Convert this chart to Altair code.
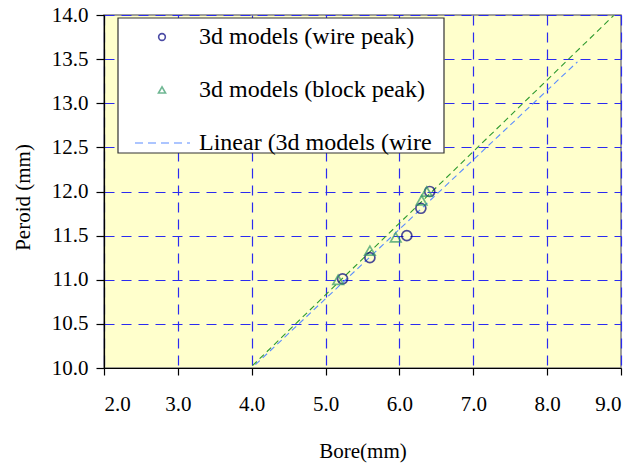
import altair as alt
import pandas as pd

# Data
wire_bore = [5.23, 5.60, 6.10, 6.29, 6.41]
wire_period = [11.01, 11.25, 11.50, 11.81, 12.00]
block_bore = [5.17, 5.60, 5.95, 6.30, 6.37]
block_period = [11.00, 11.33, 11.48, 11.90, 12.00]
wire_trend_extent = [4.05, 8.41]
block_trend_extent = [4.01, 8.90]
legend_labels = ["3d models (wire peak)", "3d models (block peak)", "Linear (3d models (wire"]
x_ticks = [2, 3, 4, 5, 6, 7, 8, 9]
y_ticks = [10.0, 10.5, 11.0, 11.5, 12.0, 12.5, 13.0, 13.5, 14.0]

wire = pd.DataFrame({"x": wire_bore, "y": wire_period})
block = pd.DataFrame({"x": block_bore, "y": block_period})

FONT = "'Liberation Serif', 'Times New Roman', 'DejaVu Serif', serif"
W, H = 517, 353

xs = alt.Scale(domain=[2, 9], nice=False, zero=False)
ys = alt.Scale(domain=[10, 14], nice=False, zero=False)

x_axis = alt.Axis(values=x_ticks, format=".1f", title="Bore(mm)", grid=True,
                  tickSize=7, labelPadding=18, titleY=72, titleBaseline="top")
y_axis = alt.Axis(values=y_ticks, format=".1f", title="Peroid (mm)", grid=True,
                  tickSize=8, labelPadding=8, titleX=-81, titleY=182,
                  titleBaseline="middle", titleAlign="center", titleAngle=-90)

X = alt.X("x:Q", scale=xs, axis=x_axis)
Y = alt.Y("y:Q", scale=ys, axis=y_axis)

wire_trend = alt.Chart(wire).transform_regression(
    "x", "y", extent=wire_trend_extent
).mark_line(color="#5A8CFF", strokeDash=[6, 4], strokeWidth=1.1, clip=True).encode(x=X, y=Y)

block_trend = alt.Chart(block).transform_regression(
    "x", "y", extent=block_trend_extent
).mark_line(color="#2E9A2E", strokeDash=[6, 4], strokeWidth=1.1, clip=True).encode(x=X, y=Y)

wire_pts = alt.Chart(wire).mark_point(
    shape="circle", filled=False, color="#000080", size=100, strokeWidth=1.7
).encode(x=X, y=Y)

block_pts = alt.Chart(block).mark_point(
    shape="triangle-up", filled=False, color="#339966", size=110, strokeWidth=1.7
).encode(x=X, y=Y)

one = pd.DataFrame({"a": [0]})

legend_box = alt.Chart(one).mark_rect(
    fill="white", stroke="#333333", strokeWidth=1.2
).encode(x=alt.value(14), x2=alt.value(340), y=alt.value(3), y2=alt.value(138))

leg_circle = alt.Chart(one).mark_point(
    shape="circle", filled=False, color="#000080", size=45, strokeWidth=1.6
).encode(x=alt.value(58), y=alt.value(22))

leg_tri = alt.Chart(one).mark_point(
    shape="triangle-up", filled=False, color="#339966", size=50, strokeWidth=1.6
).encode(x=alt.value(58), y=alt.value(75))

leg_line = alt.Chart(one).mark_rule(
    color="#5A8CFF", strokeDash=[8, 5], strokeWidth=1.1
).encode(x=alt.value(31), x2=alt.value(86), y=alt.value(128))

leg_texts = [
    alt.Chart(one).mark_text(
        align="left", baseline="middle", font=FONT, fontSize=24, color="black"
    ).encode(x=alt.value(95), y=alt.value(yy), text=alt.value(lbl))
    for lbl, yy in zip(legend_labels, [22, 75, 128])
]

chart = alt.layer(
    wire_trend, block_trend, wire_pts, block_pts,
    legend_box, leg_circle, leg_tri, leg_line, *leg_texts
).properties(
    width=W, height=H,
    autosize=alt.AutoSizeParams(type="none"),
    padding={"left": 104, "top": 15, "right": 18, "bottom": 96},
).configure_view(
    fill="#FFFFCC", stroke="#808080", strokeWidth=1.5
).configure_axis(
    labelFont=FONT, titleFont=FONT, labelFontSize=21, titleFontSize=21,
    labelColor="black", titleColor="black", titleFontWeight="normal",
    domainColor="black", tickColor="black", domainWidth=1.2, tickWidth=1.2,
    gridColor="#2B2BF0", gridDash=[10, 7], gridWidth=1.2, gridOpacity=1,
)

chart.save("out.html", embed_options={"renderer": "svg", "actions": False})
